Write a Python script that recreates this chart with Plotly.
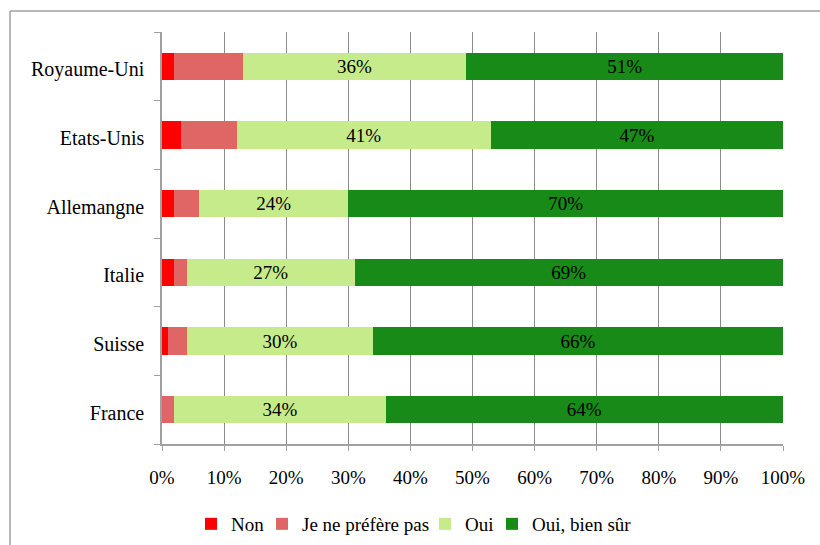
import plotly.graph_objects as go

countries = ["France", "Suisse", "Italie", "Allemangne", "Etats-Unis", "Royaume-Uni"]
series_names = ["Non", "Je ne préfère pas", "Oui", "Oui, bien sûr"]
non = [0, 1, 2, 2, 3, 2]
jnpp = [2, 3, 2, 4, 9, 11]
oui = [34, 30, 27, 24, 41, 36]
oui_bs = [64, 66, 69, 70, 47, 51]
colors = ["#FF0000", "#E06666", "#C6EB8A", "#178A17"]
x_ticks = [0, 10, 20, 30, 40, 50, 60, 70, 80, 90, 100]

values = [non, jnpp, oui, oui_bs]
show_text = [False, False, True, True]

FONT = "Times New Roman"

L, R, T, B = 162, 37, 32, 101
W, H = 820, 545
pw, ph = W - L - R, H - T - B

def px(x):
    return (x - L) / pw

def py(y):
    return (H - B - y) / ph

legend_ids = ["legend", "legend2", "legend3", "legend4"]
legend_left = [191, 262, 425, 492]

fig = go.Figure()
for name, vals, col, st, lid in zip(series_names, values, colors, show_text, legend_ids):
    fig.add_trace(go.Bar(
        y=countries, x=vals, name=name, orientation="h",
        marker=dict(color=col, line=dict(width=0)),
        text=[f"{v}%" for v in vals] if st else None,
        textposition="inside" if st else "none",
        insidetextanchor="middle",
        textfont=dict(family=FONT, size=19, color="black"),
        hoverinfo="x+name",
        legend=lid,
        showlegend=True,
    ))

legends = {}
for lid, lx in zip(legend_ids, legend_left):
    legends[lid] = dict(
        orientation="h", x=px(lx), xanchor="left",
        y=py(524), yanchor="middle",
        font=dict(family=FONT, size=19, color="black"),
        itemwidth=30, bgcolor="rgba(0,0,0,0)",
    )

fig.update_layout(
    showlegend=True,
    barmode="stack",
    bargap=0.6,
    width=W, height=H,
    margin=dict(l=L, r=R, t=T, b=B, autoexpand=False),
    paper_bgcolor="white", plot_bgcolor="white",
    font=dict(family=FONT, size=19, color="black"),
    uniformtext=dict(mode="show", minsize=10),
    xaxis=dict(
        range=[0, 100], tickvals=x_ticks,
        ticktext=[f"{t}%" for t in x_ticks],
        showgrid=True, gridcolor="#8c8c8c", gridwidth=1,
        showline=True, linecolor="#a0a0a0", linewidth=1.5,
        ticks="outside", ticklen=5, tickcolor="#a0a0a0",
        ticklabelstandoff=10,
        zeroline=False, tickfont=dict(family=FONT, size=19, color="black"),
        fixedrange=True,
    ),
    yaxis=dict(
        categoryorder="array", categoryarray=countries,
        showline=True, linecolor="#a0a0a0", linewidth=1.5,
        ticks="outside", ticklen=6, tickcolor="#a0a0a0",
        tickson="boundaries", ticklabelstandoff=12, ticklabelshift=3,
        tickfont=dict(family=FONT, size=20, color="black"), fixedrange=True,
    ),
    shapes=[
        dict(type="line", xref="paper", yref="paper",
             x0=px(10), x1=px(10), y0=py(11), y1=py(560),
             line=dict(color="#a0a0a0", width=1.5)),
        dict(type="line", xref="paper", yref="paper",
             x0=px(10), x1=px(830), y0=py(11), y1=py(11),
             line=dict(color="#a0a0a0", width=1.5)),
    ],
    **legends,
)

fig.write_html("out.html")
